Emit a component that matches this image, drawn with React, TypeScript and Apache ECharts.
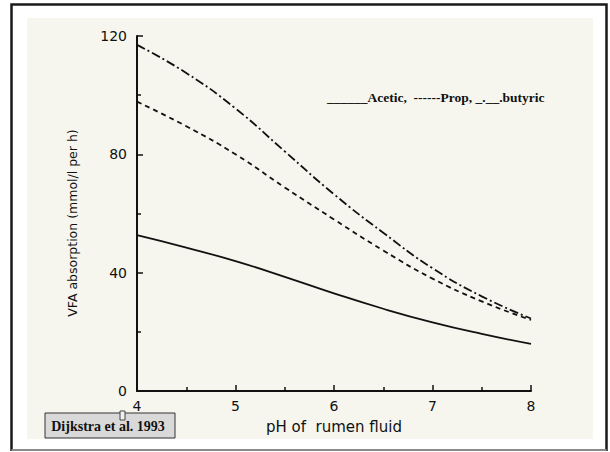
import React, { useEffect, useRef } from "react";
import * as echarts from "echarts";

const phValues = [4, 4.5, 5, 5.5, 6, 6.5, 7, 7.5, 8];
const acetic = [52.7, 48.5, 43.9, 38.6, 33.0, 27.8, 23.2, 19.3, 15.9];
const propionic = [97.8, 89.5, 80, 68.8, 58, 47.5, 38, 30.3, 24];
const butyric = [117, 107.5, 95.5, 81, 66.5, 53.5, 41.5, 32, 24.5];

const xTicks = { min: 4, max: 8, interval: 1 };
const yTicks = { min: 0, max: 120, interval: 40 };

const xAxisName = "pH of  rumen fluid";
const yAxisName = "VFA absorption (mmol/l per h)";
const legendText = "______Acetic,  ------Prop, _.__.butyric";
const sourceText = "Dijkstra et al. 1993";

const pairs = (ys: number[]) => phValues.map((x, i) => [x, ys[i]]);

export default function App() {
  const ref = useRef<HTMLDivElement>(null);
  useEffect(() => {
    if (!ref.current) return;
    const chart = echarts.init(ref.current, undefined, { renderer: "svg" });
    const ink = "#111";
    const axisCommon = {
      type: "value",
      axisLine: { show: true, onZero: false, lineStyle: { color: ink, width: 2 } },
      axisTick: { show: true, inside: true, length: 6, lineStyle: { color: ink, width: 1.5 } },
      minorTick: { show: true, splitNumber: 2, length: 4, lineStyle: { color: ink, width: 1.5 } },
      splitLine: { show: false },
      minorSplitLine: { show: false },
    };
    const lineSeries = (name: string, ys: number[], type: any) => ({
      name,
      type: "line",
      data: pairs(ys),
      smooth: 0.5,
      symbol: "none",
      lineStyle: { color: ink, width: 1.8, type },
      z: 3,
    });
    chart.setOption({
      animation: false,
      backgroundColor: "#ffffff",
      grid: { left: 137, right: 79, top: 36, bottom: 61 },
      xAxis: {
        ...axisCommon,
        min: xTicks.min,
        max: xTicks.max,
        interval: xTicks.interval,
        axisLabel: { color: ink, fontSize: 14, fontFamily: "DejaVu Sans", margin: 8 },
        name: xAxisName,
        nameLocation: "middle",
        nameGap: 28,
        nameTextStyle: { color: ink, fontSize: 15, fontFamily: "DejaVu Sans", verticalAlign: "top" },
      },
      yAxis: {
        ...axisCommon,
        min: yTicks.min,
        max: yTicks.max,
        interval: yTicks.interval,
        axisLabel: { color: ink, fontSize: 14, fontFamily: "DejaVu Sans", margin: 10 },
      },
      series: [
        lineSeries("Acetic", acetic, "solid"),
        lineSeries("Prop", propionic, [5, 4]),
        lineSeries("butyric", butyric, [9, 3, 2, 3]),
      ],
      graphic: [
        {
          type: "rect",
          z: -10,
          shape: { x: 11.5, y: 4.5, width: 595, height: 445 },
          style: { fill: "#ffffff", stroke: "none" },
        },
        {
          type: "polyline",
          z: -9,
          shape: { points: [[11.5, 451], [11.5, 4.5], [606.5, 4.5], [606.5, 451]] },
          style: { stroke: "#1a1a1a", lineWidth: 2.5, fill: "none" },
        },
        {
          type: "line",
          z: -9,
          shape: { x1: 11.5, y1: 450, x2: 606.5, y2: 450 },
          style: { stroke: "#8a8a8a", lineWidth: 2 },
        },
        {
          type: "rect",
          z: -8,
          shape: { x: 27, y: 18, width: 566, height: 421 },
          style: { fill: "#f6f6ee", stroke: "none" },
        },
        {
          type: "text",
          z: 5,
          x: 72,
          y: 223,
          rotation: Math.PI / 2,
          style: {
            text: yAxisName,
            fontSize: 12.5,
            fontFamily: "DejaVu Sans",
            fill: ink,
            align: "center",
            verticalAlign: "middle",
            textAlign: "center",
            textVerticalAlign: "middle",
          },
        },
        {
          type: "text",
          z: 5,
          x: 327,
          y: 97,
          style: {
            text: legendText,
            fontSize: 13.5,
            fontWeight: "bold",
            fontFamily: "Liberation Serif",
            fill: ink,
            align: "left",
            verticalAlign: "middle",
            textAlign: "left",
            textVerticalAlign: "middle",
          },
        },
        {
          type: "rect",
          z: 5,
          shape: { x: 45, y: 413, width: 130, height: 25 },
          style: { fill: "#d9d9d9", stroke: "#333", lineWidth: 1 },
        },
        {
          type: "text",
          z: 6,
          x: 108,
          y: 426.5,
          style: {
            text: sourceText,
            fontSize: 14,
            fontWeight: "bold",
            fontFamily: "Liberation Serif",
            fill: ink,
            align: "center",
            verticalAlign: "middle",
            textAlign: "center",
            textVerticalAlign: "middle",
          },
        },
        {
          type: "rect",
          z: 7,
          shape: { x: 120, y: 411, width: 5, height: 9 },
          style: { fill: "#f0f0f0", stroke: "#444", lineWidth: 1 },
        },
      ],
    });
    return () => chart.dispose();
  }, []);
  return (
    <div
      ref={ref}
      style={{ position: "fixed", left: 0, top: 0, width: 610, height: 452 }}
    />
  );
}
